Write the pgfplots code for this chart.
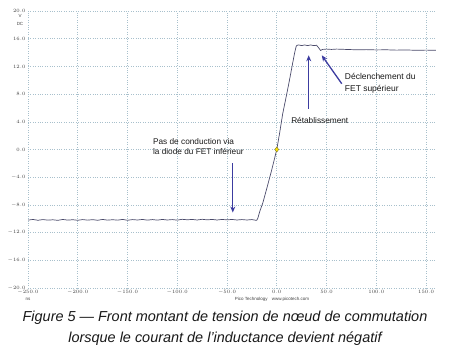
\documentclass[border=0pt]{standalone}
\usepackage{pgfplots}
\pgfplotsset{compat=1.18}
\usepackage{fontspec}
\setmainfont{Liberation Sans}
\usetikzlibrary{arrows.meta}
\definecolor{gridc}{HTML}{A8C0CC}
\definecolor{curvec}{HTML}{4A4A6A}
\definecolor{arrc}{HTML}{3C3CA0}
\definecolor{tickc}{HTML}{404040}
\begin{document}
\begin{tikzpicture}
\path[use as bounding box] (0,0) rectangle (450bp,360bp);
\begin{axis}[
  at={(28bp,72bp)}, anchor=south west,
  scale only axis, width=408bp, height=277bp,
  xmin=-250, xmax=160, ymin=-20, ymax=20,
  xtick={-250,-200,...,150}, ytick={-20,-16,...,20},
  axis line style={draw=none},
  major tick length=0pt,
  grid=major,
  major grid style={gridc, dotted, line width=0.6pt},
  tick label style={font=\fontsize{5}{5.5}\selectfont, text=tickc},
  xticklabel style={yshift=1pt},
  yticklabel style={xshift=1pt},
  /pgf/number format/.cd, fixed, fixed zerofill, precision=1,
]
\addplot[curvec, line width=0.7pt] coordinates {
(-250,-10.2) (-245,-10.1) (-240,-10.22) (-235,-10.12) (-230,-10.2) (-225,-10.15)
(-220,-10.23) (-215,-10.1) (-210,-10.2) (-205,-10.14) (-200,-10.22) (-195,-10.12)
(-190,-10.2) (-185,-10.13) (-180,-10.22) (-175,-10.1) (-170,-10.2) (-165,-10.14)
(-160,-10.2) (-155,-10.1) (-150,-10.22) (-145,-10.12) (-140,-10.18) (-135,-10.1)
(-130,-10.2) (-125,-10.12) (-120,-10.2) (-115,-10.1) (-110,-10.18) (-105,-10.12)
(-100,-10.2) (-95,-10.08) (-90,-10.15) (-85,-10.1) (-80,-10.18) (-75,-10.08)
(-70,-10.16) (-65,-10.1) (-60,-10.18) (-55,-10.1) (-50,-10.16) (-45,-10.1)
(-40,-10.18) (-35,-10.12) (-30,-10.18) (-25,-10.12) (-21,-10.22)
(-20,-10.2) (-19,-9.9) (-17,-8.9) (-14,-7.7) (-10,-5.6) (-5,-2.9) (0,0)
(3,2.5) (6,5.2) (10,8) (13,10.2) (16,12.5) (18,14) (19.5,14.9) (20.5,15.05)
(22,15.1) (25,15.0) (28,15.1) (31,15.0) (34,15.1) (37,15.0) (40,15.05)
(42,14.7) (44,14.3) (46,14.45) (50,14.5) (55,14.45) (60,14.5) (70,14.45)
(80,14.4) (90,14.42) (100,14.38) (110,14.4) (120,14.35) (130,14.37)
(140,14.33) (150,14.35) (160,14.33)
};
\addplot[only marks, mark=diamond*, mark size=2.6pt, mark options={fill=yellow!85!orange, draw=olive!70!black, line width=0.3pt}] coordinates {(0,0)};
% arrows
\draw[arrc, line width=1.3pt, -{Stealth[length=6pt,width=5pt]}] (axis cs:-44.2,-2.0) -- (axis cs:-44.2,-9.1);
\draw[arrc, line width=1.3pt, -{Stealth[length=6pt,width=5pt]}] (axis cs:32.1,5.9) -- (axis cs:32.1,13.6);
\draw[arrc, line width=1.3pt, -{Stealth[length=6pt,width=5pt]}] (axis cs:65.3,9.5) -- (axis cs:45.2,13.6);
% annotation texts
\node[anchor=north west, align=left, inner sep=0pt, font=\fontsize{8.3}{9.8}\selectfont, text=black!90] at (axis cs:-124.5,1.6) {Pas de conduction via\\la diode du FET inférieur};
\node[inner sep=0pt, font=\fontsize{8.3}{9.8}\selectfont, text=black!90] at (axis cs:43.2,4.2) {Rétablissement};
\node[anchor=north west, align=left, inner sep=0pt, font=\fontsize{8.5}{11.5}\selectfont, text=black!90] at (axis cs:68.3,11.0) {Déclenchement du\\FET supérieur};
\end{axis}
% unit labels
\node[font=\fontsize{4.5}{5}\selectfont, text=tickc] at (20bp,344bp) {V};
\node[font=\fontsize{4.5}{5}\selectfont, text=tickc] at (20bp,336bp) {DC};
\node[font=\fontsize{4.5}{5}\selectfont, text=tickc] at (28bp,61bp) {ns};
\node[font=\fontsize{4.5}{5}\selectfont, text=tickc] at (272bp,61bp) {Pico Technology\quad www.picotech.com};
% caption
\node[font=\fontsize{14.5}{16}\itshape, text=black!90] at (225bp,42bp) {Figure 5 — Front montant de tension de nœud de commutation};
\node[font=\fontsize{14.5}{16}\itshape, text=black!90] at (225bp,21bp) {lorsque le courant de l’inductance devient négatif};
\end{tikzpicture}
\end{document}
